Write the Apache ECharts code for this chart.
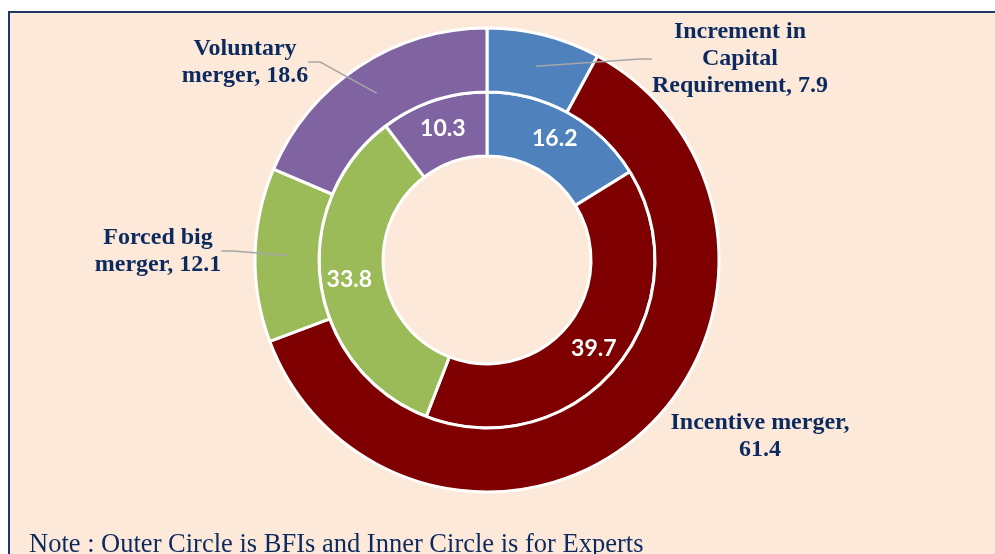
<!doctype html>
<html>
<head>
<meta charset="utf-8">
<title>Merger motives</title>
<script src="https://cdn.jsdelivr.net/npm/echarts@6/dist/echarts.min.js"></script>
<style>
    html, body {margin: 0; padding: 0; background: #fff; overflow: hidden;}
    #frame {position: absolute; left: 8px; top: 11px; width: 1100px; height: 700px;
            border: 2px solid #1F3864; background: #FDE9D9;}
    #main {position: absolute; left: 0; top: 0; width: 995px; height: 554px;}
</style>
</head>
<body>
<div id="frame"></div>
<div id="main"></div>
<script type="text/javascript">
    // categories, clockwise from 12 o'clock
    var categories = ['Increment in Capital Requirement', 'Incentive merger', 'Forced big merger', 'Voluntary merger'];
    var labelNames = ['Increment in\nCapital\nRequirement', 'Incentive merger,\n', 'Forced big\nmerger', 'Voluntary\nmerger'];
    // outer circle: BFIs, inner circle: Experts
    var bfiValues = [7.9, 61.4, 12.1, 18.6];
    var expertValues = [16.2, 39.7, 33.8, 10.3];
    var colors = ['#4F81BD', '#7F0000', '#9BBB59', '#8064A2'];

    // where the outer labels sit (centre of the text block)
    var labelPos = [[740, 59], [760, 436], [158, 251], [245, 62]];

    var navy = '#0D2A5F';

    function toData(vals, withLine) {
        return vals.map(function (v, i) {
            var d = {name: categories[i], value: v, itemStyle: {color: colors[i]}};
            if (withLine) {
                d.itemStyle = {color: 'transparent'};
                d.labelLine = {show: i !== 1};
            }
            return d;
        });
    }

    var myChart = echarts.init(document.getElementById('main'));
    var option = {
        backgroundColor: 'transparent',
        animation: false,
        title: {
            text: 'Note : Outer Circle is BFIs and Inner Circle is for Experts',
            left: 24,
            top: 527,
            textStyle: {fontFamily: 'Liberation Serif', fontWeight: 'normal', fontSize: 26.5, color: navy}
        },
        series: [
            {
                name: 'Experts',
                type: 'pie',
                center: [487, 260],
                radius: [104, 168],
                startAngle: 90,
                itemStyle: {borderColor: '#fff', borderWidth: 3},
                label: {
                    show: true,
                    position: 'inside',
                    formatter: '{c}',
                    color: '#fff',
                    fontFamily: 'Lato',
                    fontWeight: 'bold',
                    fontSize: 23
                },
                labelLine: {show: false},
                data: toData(expertValues, false)
            },
            {
                name: 'BFIs',
                type: 'pie',
                center: [487, 260],
                radius: [168, 232],
                startAngle: 90,
                itemStyle: {borderColor: '#fff', borderWidth: 3},
                label: {show: false},
                labelLine: {show: false},
                data: toData(bfiValues, false)
            },
            {
                // label carrier for the outer ring, lines start mid ring
                name: 'BFIs labels',
                type: 'pie',
                z: 5,
                center: [487, 260],
                radius: [0, 200],
                startAngle: 90,
                silent: true,
                itemStyle: {borderWidth: 0},
                label: {
                    show: true,
                    position: 'outside',
                    formatter: function (p) {
                        return labelNames[p.dataIndex] + (p.dataIndex === 1 ? '' : ', ') + p.value;
                    },
                    align: 'center',
                    color: navy,
                    fontFamily: 'Liberation Serif',
                    fontWeight: 'bold',
                    fontSize: 24,
                    lineHeight: 27
                },
                labelLine: {show: true, length: 10, length2: 12, lineStyle: {color: '#A6A6A6', width: 1.5}},
                labelLayout: function (params) {
                    var p = labelPos[params.dataIndex];
                    return {x: p[0], y: p[1], align: 'center', verticalAlign: 'middle'};
                },
                data: toData(bfiValues, true)
            }
        ]
    };
    myChart.setOption(option);
</script>
</body>
</html>
